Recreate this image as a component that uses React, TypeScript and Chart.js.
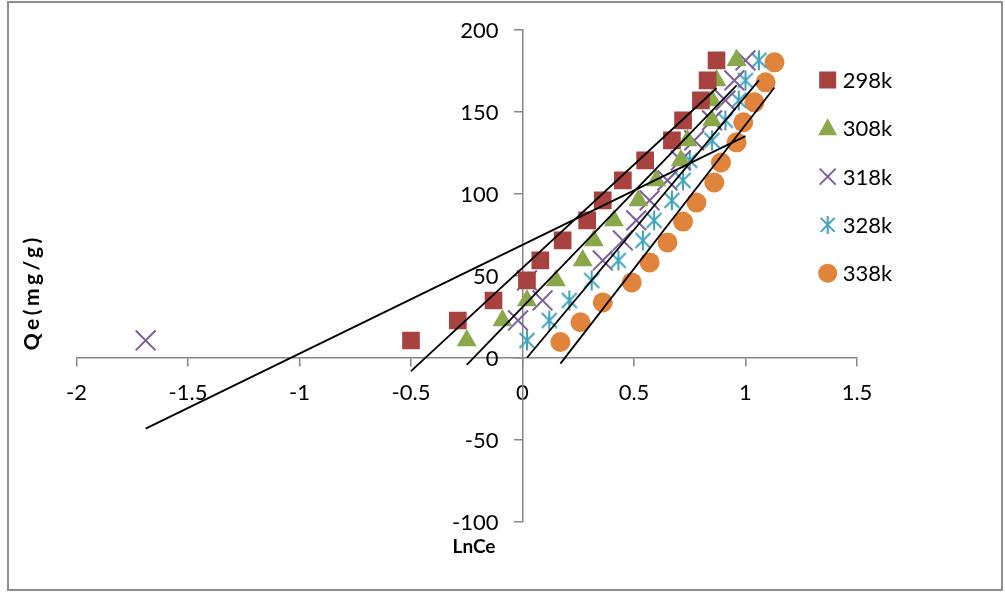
import React, { useEffect, useRef } from "react";
import { Chart, registerables } from "chart.js";

Chart.register(...registerables);

// Adsorption isotherm data: Qe (mg/g) against Ln Ce, one series per temperature
const seriesNames = ["298k", "308k", "318k", "328k", "338k"];

const qe = [10.5, 22.7, 34.9, 47.1, 59.3, 71.5, 83.7, 95.9, 108.1, 120.3, 132.5, 144.7, 156.9, 169.1, 181.3];
const qe338 = [9.6, 21.6, 33.7, 45.9, 58.1, 70.3, 83.0, 94.6, 106.8, 119.0, 131.3, 143.5, 155.7, 167.9, 180.1];

const lnCe298 = [-0.5, -0.29, -0.13, 0.02, 0.08, 0.18, 0.29, 0.36, 0.45, 0.55, 0.67, 0.72, 0.8, 0.83, 0.87];
const lnCe308 = [-0.25, -0.09, 0.02, 0.15, 0.27, 0.32, 0.41, 0.52, 0.6, 0.71, 0.74, 0.85, 0.85, 0.87, 0.96];
const lnCe318 = [-1.69, -0.02, 0.09, 0.02, 0.36, 0.45, 0.51, 0.57, 0.65, 0.71, 0.77, 0.85, 0.91, 0.95, 1.0];
const lnCe328 = [0.02, 0.12, 0.21, 0.31, 0.43, 0.54, 0.59, 0.67, 0.72, 0.75, 0.85, 0.91, 0.97, 1.0, 1.06];
const lnCe338 = [0.17, 0.26, 0.36, 0.49, 0.57, 0.65, 0.72, 0.78, 0.86, 0.89, 0.96, 0.99, 1.04, 1.09, 1.13];

const seriesX = [lnCe298, lnCe308, lnCe318, lnCe328, lnCe338];
const seriesY = [qe, qe, qe, qe, qe338];

const colors = ["#A8423F", "#8AA84A", "#7D5F9E", "#3FA3BD", "#E0843C"];
const markers = ["rect", "triangle", "crossRot", "asterisk", "circle"];

const xTitle = "LnCe";
const yTitle = "Qe(mg/g)";

const FONT = "Lato, 'Open Sans', sans-serif";

function linearFit(xs: number[], ys: number[]) {
  const n = xs.length;
  const mx = xs.reduce((s, v) => s + v, 0) / n;
  const my = ys.reduce((s, v) => s + v, 0) / n;
  let sxy = 0;
  let sxx = 0;
  for (let i = 0; i < n; i++) {
    sxy += (xs[i] - mx) * (ys[i] - my);
    sxx += (xs[i] - mx) * (xs[i] - mx);
  }
  const slope = sxy / sxx;
  return { slope, intercept: my - slope * mx };
}

function makeAsterisk(color: string) {
  const c = document.createElement("canvas");
  c.width = 22;
  c.height = 22;
  const g = c.getContext("2d")!;
  g.strokeStyle = color;
  g.lineWidth = 2;
  g.lineCap = "butt";
  g.beginPath();
  g.moveTo(11, 1);
  g.lineTo(11, 21);
  g.moveTo(3.5, 3.5);
  g.lineTo(18.5, 18.5);
  g.moveTo(18.5, 3.5);
  g.lineTo(3.5, 18.5);
  g.stroke();
  return c;
}

function drawMarker(ctx: CanvasRenderingContext2D, kind: string, x: number, y: number, color: string) {
  ctx.save();
  ctx.fillStyle = color;
  ctx.strokeStyle = color;
  ctx.lineWidth = 2;
  ctx.beginPath();
  if (kind === "rect") {
    ctx.rect(x - 8.5, y - 8.5, 17, 17);
    ctx.fill();
  } else if (kind === "triangle") {
    ctx.moveTo(x, y - 10);
    ctx.lineTo(x + 9.5, y + 7);
    ctx.lineTo(x - 9.5, y + 7);
    ctx.closePath();
    ctx.fill();
  } else if (kind === "crossRot") {
    ctx.moveTo(x - 8, y - 8);
    ctx.lineTo(x + 8, y + 8);
    ctx.moveTo(x + 8, y - 8);
    ctx.lineTo(x - 8, y + 8);
    ctx.stroke();
  } else if (kind === "asterisk") {
    ctx.moveTo(x, y - 9);
    ctx.lineTo(x, y + 9);
    ctx.moveTo(x - 7, y - 7);
    ctx.lineTo(x + 7, y + 7);
    ctx.moveTo(x + 7, y - 7);
    ctx.lineTo(x - 7, y + 7);
    ctx.stroke();
  } else {
    ctx.arc(x, y, 9.5, 0, Math.PI * 2);
    ctx.fill();
  }
  ctx.restore();
}

const legendAndTitles = {
  id: "legendAndTitles",
  afterDraw(chart: Chart) {
    const ctx = chart.ctx;
    const xs = chart.scales.x;
    const ys = chart.scales.y;
    ctx.save();
    // y tick labels, set to the left of the axis that crosses at x = 0
    ctx.font = `22px ${FONT}`;
    ctx.fillStyle = "#000";
    ctx.textAlign = "right";
    ctx.textBaseline = "middle";
    const axisX = xs.getPixelForValue(0);
    ys.ticks.forEach((t) => {
      ctx.fillText(String(t.value), axisX - 24, ys.getPixelForValue(t.value) + 1);
    });
    // legend
    ctx.textAlign = "left";
    seriesNames.forEach((name, i) => {
      const y = 77 + i * 48.3;
      drawMarker(ctx, markers[i], 818.7, y, colors[i]);
      ctx.fillStyle = "#000";
      ctx.fillText(name, 833.7, y + 1);
    });
    // axis titles
    ctx.font = `bold 19px ${FONT}`;
    ctx.textAlign = "center";
    ctx.fillText(xTitle, 465, 544);
    ctx.font = `bold 21px ${FONT}`;
    ctx.translate(23, 291);
    ctx.rotate(-Math.PI / 2);
    (ctx as any).letterSpacing = "3.5px";
    ctx.fillText(yTitle, 1.75, 0);
    ctx.restore();
  },
};

export default function App() {
  const ref = useRef<HTMLCanvasElement | null>(null);

  useEffect(() => {
    if (!ref.current) return;
    const asterisk = makeAsterisk(colors[3]);

    const scatterSets = seriesNames.map((name, i) => {
      const kind = markers[i];
      const base: any = {
        label: name,
        data: seriesX[i].map((x, k) => ({ x, y: seriesY[i][k] })),
        backgroundColor: colors[i],
        borderColor: colors[i],
        showLine: false,
        order: 1,
      };
      if (kind === "rect") Object.assign(base, { pointStyle: "rect", pointRadius: 12.5, pointBorderWidth: 0 });
      if (kind === "triangle") Object.assign(base, { pointStyle: "triangle", pointRadius: 11.5, pointBorderWidth: 0 });
      if (kind === "crossRot") Object.assign(base, { pointStyle: "crossRot", pointRadius: 14, pointBorderWidth: 2 });
      if (kind === "asterisk") Object.assign(base, { pointStyle: asterisk, pointRadius: 11 });
      if (kind === "circle") Object.assign(base, { pointStyle: "circle", pointRadius: 10, pointBorderWidth: 0 });
      return base;
    });

    // linear trendline for each temperature, spanning that series' own Ln Ce range
    const trendSets = seriesNames.map((name, i) => {
      const xs = seriesX[i];
      const { slope, intercept } = linearFit(xs, seriesY[i]);
      const lo = Math.min(...xs);
      const hi = Math.max(...xs);
      return {
        label: `${name} fit`,
        data: [
          { x: lo, y: intercept + slope * lo },
          { x: hi, y: intercept + slope * hi },
        ],
        showLine: true,
        borderColor: "#000",
        borderWidth: 1.8,
        pointRadius: 0,
        fill: false,
        order: 0,
      };
    });

    const axisColor = "#868686";
    const chart = new Chart(ref.current, {
      type: "scatter",
      data: { datasets: [...trendSets, ...scatterSets] as any },
      options: {
        animation: false,
        responsive: false,
        events: [],
        layout: { padding: { left: 67.5, top: 26.7, right: 144, bottom: 67.3 } },
        plugins: { legend: { display: false }, tooltip: { enabled: false } },
        scales: {
          x: {
            type: "linear",
            position: { y: 0 } as any,
            min: -2,
            max: 1.5,
            ticks: {
              stepSize: 0.5,
              color: "#000",
              font: { family: FONT, size: 22 },
              padding: 14,
              maxRotation: 0,
              callback: (v: any) => String(Number(v)),
            },
            grid: { drawOnChartArea: false, drawTicks: true, tickLength: 8, color: axisColor, lineWidth: 1.5 },
            border: { display: true, color: axisColor, width: 1.5 },
          },
          y: {
            type: "linear",
            position: { x: 0 } as any,
            min: -100,
            max: 200,
            ticks: { stepSize: 50, display: false },
            grid: { drawOnChartArea: false, drawTicks: true, tickLength: 8, color: axisColor, lineWidth: 1.5 },
            border: { display: true, color: axisColor, width: 1.5 },
          },
        },
      },
      plugins: [legendAndTitles],
    });
    return () => chart.destroy();
  }, []);

  return (
    <div
      style={{
        position: "absolute",
        left: 7,
        top: 1,
        width: 996,
        height: 590,
        boxSizing: "border-box",
        border: "2px solid #8f8f8f",
        background: "#fff",
      }}
    >
      <canvas ref={ref} width={992} height={586} style={{ display: "block" }} />
    </div>
  );
}
